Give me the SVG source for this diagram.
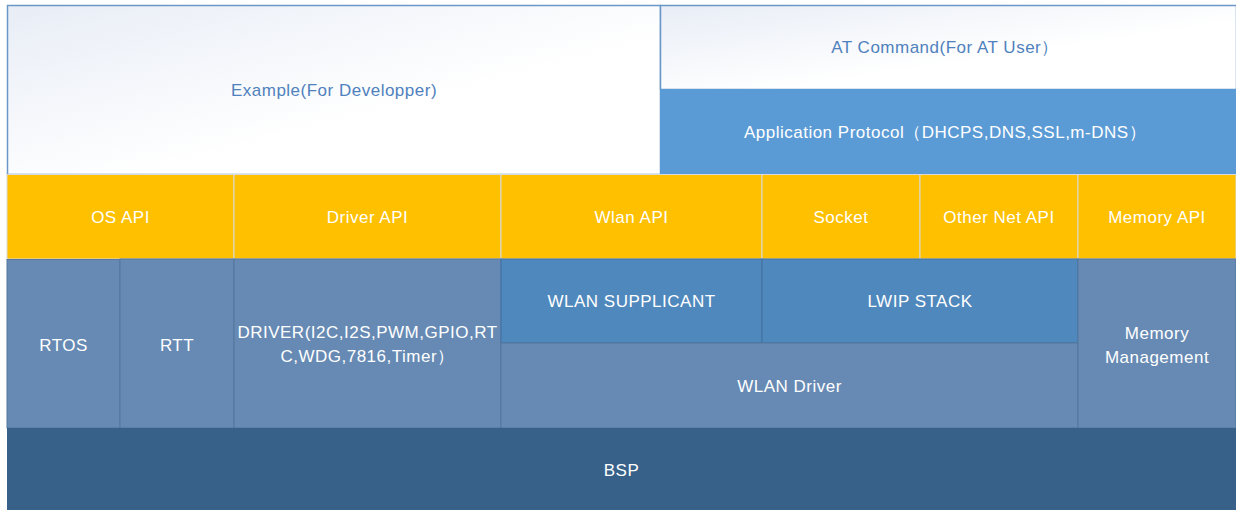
<svg xmlns="http://www.w3.org/2000/svg" width="1236" height="510" viewBox="0 0 1236 510">
<defs>
<linearGradient id="wg" x1="0" y1="0" x2="1" y2="1">
<stop offset="0" stop-color="#e8edf6"/>
<stop offset="0.6" stop-color="#ffffff"/>
<stop offset="1" stop-color="#ffffff"/>
</linearGradient>
<style>
text{font-family:"Liberation Sans",Arial,sans-serif;font-size:17px;letter-spacing:0.5px;text-anchor:middle;dominant-baseline:central}
.w{fill:#ffffff}
.b{fill:#4f81bd}
.y{fill:#ffc000;stroke:#d9d9d9;stroke-width:1}
.m{fill:#668ab3;stroke:#55779f;stroke-width:1}
.s{fill:#4f88bc;stroke:#44719f;stroke-width:1}
</style>
</defs>
<rect width="1236" height="510" fill="#ffffff"/>
<g id="example">
<rect x="7.5" y="5.5" width="653" height="169" fill="url(#wg)" stroke="#6a96c8" stroke-width="1.5"/>
<text class="b" x="334" y="90">Example(For Developper)</text>
</g>
<g id="atcommand">
<rect x="660.5" y="5.5" width="576" height="84" fill="url(#wg)" stroke="#6a96c8" stroke-width="1.5"/>
<text class="b" x="945" y="47">AT Command(For AT User）</text>
</g>
<g id="appprotocol">
<rect x="660" y="89" width="576" height="85" fill="#5b9bd5"/>
<text class="w" x="945" y="132">Application Protocol（DHCPS,DNS,SSL,m-DNS）</text>
</g>
<g id="osapi"><rect class="y" x="7" y="174.5" width="227" height="84.5"/><text class="w" x="120.5" y="217">OS API</text></g>
<g id="driverapi"><rect class="y" x="234" y="174.5" width="267" height="84.5"/><text class="w" x="367.5" y="217">Driver API</text></g>
<g id="wlanapi"><rect class="y" x="501" y="174.5" width="261" height="84.5"/><text class="w" x="631.5" y="217">Wlan API</text></g>
<g id="socket"><rect class="y" x="762" y="174.5" width="158" height="84.5"/><text class="w" x="841" y="217">Socket</text></g>
<g id="othernetapi"><rect class="y" x="920" y="174.5" width="158" height="84.5"/><text class="w" x="999" y="217">Other Net API</text></g>
<g id="memoryapi"><rect class="y" x="1078" y="174.5" width="158" height="84.5"/><text class="w" x="1157" y="217">Memory API</text></g>
<g id="rtos"><rect class="m" x="7" y="259.5" width="113" height="168.5"/><text class="w" x="63.5" y="345">RTOS</text></g>
<g id="rtt"><rect class="m" x="120" y="259" width="114" height="169"/><text class="w" x="177" y="345">RTT</text></g>
<g id="driver"><rect class="m" x="234" y="259" width="267" height="169"/>
<text class="w" x="367.5" y="332">DRIVER(I2C,I2S,PWM,GPIO,RT</text>
<text class="w" x="367.5" y="356">C,WDG,7816,Timer）</text></g>
<g id="supplicant"><rect class="s" x="501" y="259" width="261" height="84"/><text class="w" x="631.5" y="301">WLAN SUPPLICANT</text></g>
<g id="lwip"><rect class="s" x="762" y="259" width="316" height="84"/><text class="w" x="920" y="301">LWIP STACK</text></g>
<g id="wlandriver"><rect class="m" x="501" y="343" width="577" height="85"/><text class="w" x="789.5" y="386">WLAN Driver</text></g>
<g id="memmgmt"><rect class="m" x="1078" y="259" width="158" height="169"/>
<text class="w" x="1157" y="333">Memory</text>
<text class="w" x="1157" y="357">Management</text></g>
<g id="bsp"><rect x="7" y="428" width="1229" height="82" fill="#376188"/><text class="w" x="621.5" y="470">BSP</text></g>
<g id="connectors"></g>
</svg>
